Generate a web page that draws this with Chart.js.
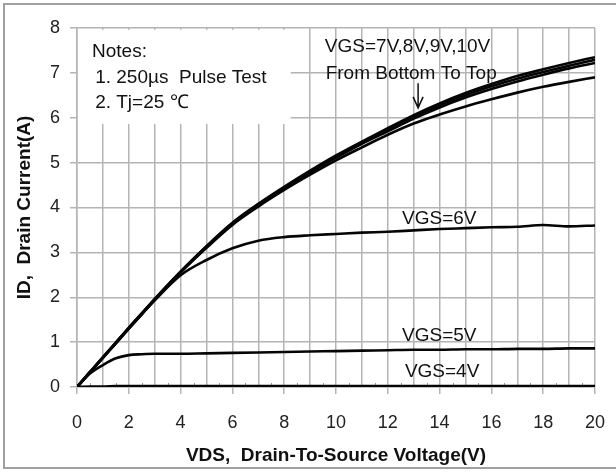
<!DOCTYPE html>
<html>
<head>
<meta charset="utf-8">
<script src="https://cdn.jsdelivr.net/npm/chart.js@4"></script>
<style>
    html, body { margin: 0; padding: 0; background: #fff; }
    #wrap { width: 616px; height: 472px; }
</style>
</head>
<body>
<div id="wrap"><canvas id="outputChart" width="616" height="472"></canvas></div>
<script>
// VDS (V) sample points
const vds = [0, 0.5, 1, 1.5, 2, 2.5, 3, 4, 5, 6, 7, 8, 9, 10, 11, 12, 13, 14, 15, 16, 17, 18, 19, 20];

// ID (A) for each gate voltage
const id10 = [0, 0.33, 0.66, 0.99, 1.32, 1.64, 1.96, 2.57, 3.14, 3.66, 4.08, 4.46, 4.82, 5.16, 5.47, 5.77, 6.06, 6.32, 6.55, 6.75, 6.93, 7.08, 7.22, 7.35];
const id9 = [0, 0.33, 0.66, 0.99, 1.32, 1.64, 1.96, 2.57, 3.13, 3.65, 4.07, 4.45, 4.8, 5.14, 5.45, 5.74, 6.03, 6.28, 6.5, 6.7, 6.87, 7.02, 7.16, 7.29];
const id8 = [0, 0.33, 0.66, 0.98, 1.31, 1.63, 1.95, 2.56, 3.12, 3.64, 4.05, 4.43, 4.78, 5.11, 5.42, 5.7, 5.98, 6.23, 6.45, 6.64, 6.81, 6.96, 7.1, 7.22];
const id7 = [0, 0.33, 0.65, 0.98, 1.3, 1.62, 1.94, 2.55, 3.1, 3.61, 4.02, 4.39, 4.73, 5.05, 5.34, 5.62, 5.87, 6.07, 6.25, 6.41, 6.56, 6.69, 6.8, 6.9];
const id6 = [0, 0.33, 0.65, 0.97, 1.3, 1.62, 1.93, 2.49, 2.83, 3.09, 3.26, 3.34, 3.38, 3.41, 3.44, 3.46, 3.49, 3.52, 3.54, 3.56, 3.57, 3.61, 3.58, 3.6];
const id5 = [0, 0.3, 0.49, 0.64, 0.71, 0.73, 0.74, 0.74, 0.75, 0.76, 0.77, 0.78, 0.79, 0.8, 0.81, 0.82, 0.83, 0.83, 0.84, 0.84, 0.85, 0.85, 0.86, 0.86];
const id4 = [0, 0.01, 0.01, 0.02, 0.02, 0.02, 0.02, 0.02, 0.02, 0.02, 0.02, 0.02, 0.02, 0.02, 0.02, 0.02, 0.02, 0.02, 0.02, 0.02, 0.02, 0.02, 0.02, 0.02];

const seriesNames = ["VGS=10V", "VGS=9V", "VGS=8V", "VGS=7V", "VGS=6V", "VGS=5V", "VGS=4V"];
const seriesValues = [id10, id9, id8, id7, id6, id5, id4];

// axis ranges / ticks
const xMin = 0, xMax = 20, xStep = 1;
const yMin = 0, yMax = 8, yStep = 1;

const FONT = "'Liberation Sans', Arial, sans-serif";
const GRID = "#b4b4b4";

function toPoints(values) {
    return vds.map((v, i) => ({ x: v, y: values[i] }));
}

// text and arrow placed in data units
const notesLines = [
    { text: "Notes:", x: 0.58, y: 7.46 },
    { text: "1. 250\u00b5s  Pulse Test", x: 0.7, y: 6.9 },
    { text: "2. Tj=25 \u2103", x: 0.7, y: 6.33 }
];
const curveLabels = [
    { text: "VGS=7V,8V,9V,10V", x: 9.57, y: 7.58 },
    { text: "From Bottom To Top", x: 9.6, y: 6.98 },
    { text: "VGS=6V", x: 12.55, y: 3.76 },
    { text: "VGS=5V", x: 12.55, y: 1.14 },
    { text: "VGS=4V", x: 12.66, y: 0.33 }
];
const arrow = { x: 13.17, from: 6.77, to: 6.22 };
const notesBox = { x1: 0, x2: 8.25, y1: 7.96, y2: 5.86 };

const decorPlugin = {
    id: "decor",
    beforeDraw(chart) {
        const c = chart.ctx;
        c.save();
        c.fillStyle = "#fff";
        c.fillRect(0, 0, chart.width, chart.height);
        // outer frame (left, top, bottom)
        c.strokeStyle = "#a0a0a0";
        c.lineWidth = 2;
        c.beginPath();
        c.moveTo(chart.width, 4);
        c.lineTo(4, 4);
        c.lineTo(4, 468);
        c.lineTo(chart.width, 468);
        c.stroke();
        c.restore();
    },
    beforeDatasetsDraw(chart) {
        const c = chart.ctx;
        const xs = chart.scales.x, ys = chart.scales.y;
        c.save();
        // minor ticks on the bottom axis
        c.strokeStyle = "#999";
        c.lineWidth = 1;
        c.beginPath();
        for (let v = 0.5; v < xMax; v += 1) {
            const px = Math.round(xs.getPixelForValue(v)) + 0.5;
            c.moveTo(px, ys.getPixelForValue(0));
            c.lineTo(px, ys.getPixelForValue(0) - 4);
        }
        c.stroke();
        // white box behind the notes
        const left = xs.getPixelForValue(notesBox.x1) + 1;
        const right = xs.getPixelForValue(notesBox.x2);
        const top = ys.getPixelForValue(notesBox.y1);
        const bottom = ys.getPixelForValue(notesBox.y2);
        c.fillStyle = "#fff";
        c.fillRect(left, top, right - left, bottom - top);
        c.restore();
    },
    afterDatasetsDraw(chart) {
        const c = chart.ctx;
        const xs = chart.scales.x, ys = chart.scales.y;
        c.save();
        c.fillStyle = "#111";
        c.textBaseline = "middle";
        c.textAlign = "left";
        c.font = "19px " + FONT;
        notesLines.concat(curveLabels).forEach(t => {
            c.fillText(t.text, xs.getPixelForValue(t.x), ys.getPixelForValue(t.y));
        });
        // arrow pointing at the curves
        const ax = xs.getPixelForValue(arrow.x);
        const ay1 = ys.getPixelForValue(arrow.from);
        const ay2 = ys.getPixelForValue(arrow.to);
        c.strokeStyle = "#111";
        c.lineWidth = 1.5;
        c.beginPath();
        c.moveTo(ax, ay1);
        c.lineTo(ax, ay2);
        c.moveTo(ax - 5, ay2 - 11);
        c.lineTo(ax, ay2);
        c.lineTo(ax + 5, ay2 - 11);
        c.stroke();
        c.restore();
    }
};

const ctx = document.getElementById("outputChart").getContext("2d");

new Chart(ctx, {
    type: "line",
    data: {
        datasets: seriesNames.map((name, i) => ({
            label: name,
            data: toPoints(seriesValues[i]),
            borderColor: "#050505",
            borderWidth: 2.6,
            pointRadius: 0,
            fill: false,
            cubicInterpolationMode: "monotone"
        }))
    },
    options: {
        responsive: false,
        animation: false,
        layout: { padding: { left: 0, right: 21, top: 28, bottom: 0 } },
        plugins: {
            legend: { display: false },
            tooltip: { enabled: false }
        },
        scales: {
            x: {
                type: "linear",
                min: xMin,
                max: xMax,
                afterFit(scale) {
                    scale.height = 85;
                    // keep the plot edge where the layout padding puts it
                    scale.paddingLeft = 0;
                    scale.paddingRight = 0;
                },
                ticks: {
                    stepSize: xStep,
                    autoSkip: false,
                    maxRotation: 0,
                    padding: 18,
                    color: "#222",
                    font: { family: FONT, size: 18 },
                    callback: v => (v % 2 === 0 ? String(v) : "")
                },
                grid: {
                    color: GRID,
                    lineWidth: 1.5,
                    tickLength: 7,
                    tickColor: c => (c.tick && c.tick.value % 2 === 0 ? GRID : "rgba(0,0,0,0)")
                },
                border: { color: GRID, width: 1.5 },
                title: {
                    display: true,
                    text: "VDS,  Drain-To-Source Voltage(V)",
                    color: "#111",
                    font: { family: FONT, size: 19, weight: "bold" },
                    padding: { top: 0, bottom: 5 }
                }
            },
            y: {
                min: yMin,
                max: yMax,
                afterFit(scale) { scale.width = 77; },
                ticks: {
                    stepSize: yStep,
                    padding: 10,
                    color: "#222",
                    font: { family: FONT, size: 18 }
                },
                grid: {
                    color: GRID,
                    lineWidth: 1.5,
                    tickLength: 7
                },
                border: { color: GRID, width: 1.5 },
                title: {
                    display: true,
                    text: "ID,  Drain Current(A)",
                    color: "#111",
                    font: { family: FONT, size: 19, weight: "bold" },
                    padding: { top: 13, bottom: 0 }
                }
            }
        }
    },
    plugins: [decorPlugin]
});
</script>
</body>
</html>
